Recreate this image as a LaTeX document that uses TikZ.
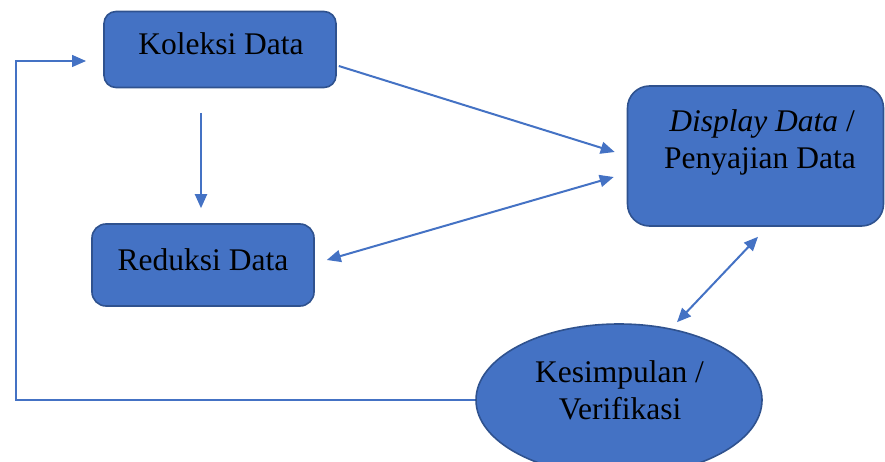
\documentclass[tikz,border=0pt]{standalone}
\usepackage{fontspec}
\setmainfont{Liberation Serif}
\usetikzlibrary{arrows.meta,shapes.geometric,calc}
\definecolor{boxfill}{HTML}{4472C4}
\definecolor{boxline}{HTML}{2F528F}
\definecolor{arrowc}{HTML}{4472C4}
\begin{document}
\begin{tikzpicture}[x=1pt,y=-1pt,
  box/.style={draw=boxline,fill=boxfill,line width=1.6pt,inner sep=0pt},
  lbl/.style={anchor=base,inner sep=0pt,font=\fontsize{31.5}{36}\selectfont},
  conn/.style={draw=arrowc,line width=2pt},
  tip/.style={-{Triangle[length=14pt,width=12pt]}},
  dtip/.style={{Triangle[length=14pt,width=12pt]}-{Triangle[length=14pt,width=12pt]}}]
\useasboundingbox (0,0) rectangle (885,462);
\clip (0,0) rectangle (885,462);
% shapes
\node[box,rectangle,rounded corners=12pt,minimum width=232pt,minimum height=76pt] (kol) at (220,49.5) {};
\node[box,rectangle,rounded corners=22pt,minimum width=256pt,minimum height=140pt] (disp) at (755.5,156) {};
\node[box,rectangle,rounded corners=14pt,minimum width=222pt,minimum height=82pt] (red) at (203,265) {};
\node[box,ellipse,minimum width=286pt,minimum height=152pt] (ell) at (619,400) {};
% labels
\node[lbl] (kolt) at (221,55) {Koleksi Data};
\node[lbl] (d1) at (762,132) {\textit{Display Data} /};
\node[lbl] (d2) at (760,169) {Penyajian Data};
\node[lbl] (redt) at (203,270) {Reduksi Data};
\node[lbl] (e1) at (619.5,382) {Kesimpulan /};
\node[lbl] (e2) at (620,419) {Verifikasi};
% connectors
\draw[conn,tip] ([xshift=2pt,yshift=-16.5pt]kol.east) -- ([xshift=-12pt,yshift=4pt]disp.west);
\draw[conn,tip] ([xshift=-19pt,yshift=-24.5pt]kol.south) -- ([xshift=-2pt,yshift=15pt]red.north);
\draw[conn,dtip] ([xshift=12pt,yshift=5pt]red.east) -- ([xshift=-13pt,yshift=-21pt]disp.west);
\draw[conn,dtip] ([xshift=2.5pt,yshift=-10pt]disp.south) -- ([xshift=58pt,yshift=1pt]ell.north);
\coordinate (fbc) at (16,61);
\coordinate (fbend) at (86,61);
\draw[draw=arrowc,line width=1.4pt,tip] (ell.west) -| (fbc) -- (fbend);
\end{tikzpicture}
\end{document}
